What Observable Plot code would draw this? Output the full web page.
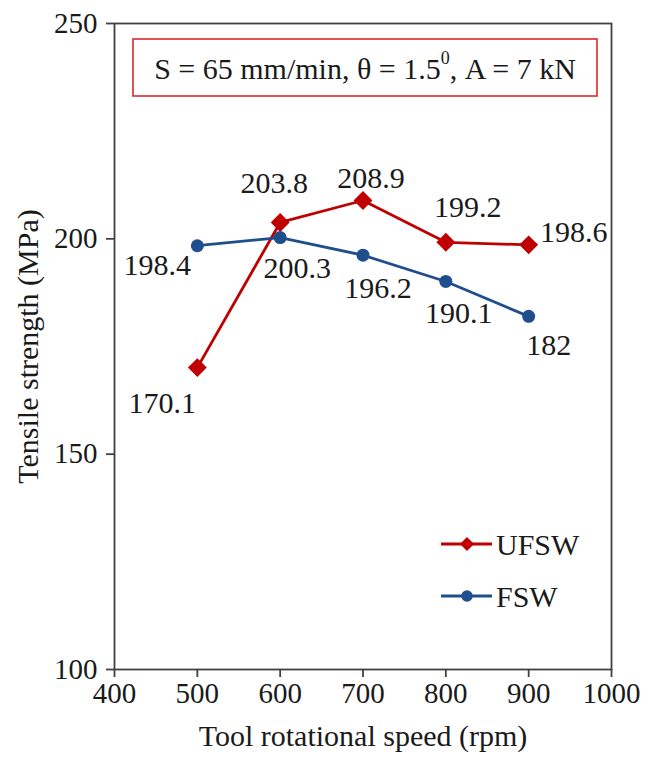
<!DOCTYPE html>
<html>
<head>
<meta charset="utf-8">
<script src="https://cdn.jsdelivr.net/npm/d3@7"></script>
<script src="https://cdn.jsdelivr.net/npm/@observablehq/plot@0.6"></script>
<style>
  html, body { margin: 0; padding: 0; background: #fff; }
  #chart { width: 656px; height: 758px; }
</style>
</head>
<body>
<div id="chart"></div>
<script>
// ---- data ----
const speeds = [500, 600, 700, 800, 900];
const ufsw = [170.1, 203.8, 208.9, 199.2, 198.6];
const fsw = [198.4, 200.3, 196.2, 190.1, 182];
const seriesNames = ["UFSW", "FSW"];
const xTicks = [400, 500, 600, 700, 800, 900, 1000];
const yTicks = [100, 150, 200, 250];

// ---- styling / layout config ----
const colors = {UFSW: "#C00000", FSW: "#1F4E8C"};
const symbols = {UFSW: "diamond2", FSW: "circle"};
const labelOffsets = {
  UFSW: [[-35, 36], [-6, -39], [8, -22], [22, -35], [45, -12]],
  FSW:  [[-40, 20], [17, 31], [15, 33], [13, 32], [20, 29]]
};
const FONT = "'Liberation Serif', 'Times New Roman', serif";
const FS = 30;
const TICK_FS = 29;

const rows = [];
speeds.forEach((s, i) => rows.push({series: "UFSW", speed: s, value: ufsw[i], i}));
speeds.forEach((s, i) => rows.push({series: "FSW", speed: s, value: fsw[i], i}));

const labelMarks = rows.map(r => {
  const [dx, dy] = labelOffsets[r.series][r.i];
  return Plot.text([r], {
    x: "speed", y: "value", text: d => String(d.value),
    dx, dy, fill: "#1a1a1a", fontSize: FS, textAnchor: "middle", lineAnchor: "middle"
  });
});

const plot = Plot.plot({
  width: 656,
  height: 758,
  marginLeft: 114,
  marginRight: 45,
  marginTop: 23,
  marginBottom: 89,
  style: {fontFamily: FONT, fontSize: TICK_FS + "px", color: "#1a1a1a", background: "#fff"},
  x: {domain: [400, 1000]},
  y: {domain: [100, 250]},
  marks: [
    Plot.axisX({ticks: xTicks, tickSize: 8, tickPadding: 5, tickFormat: d => String(d),
      label: null, stroke: "#404040", strokeWidth: 1.8, fontSize: TICK_FS}),
    Plot.axisX({ticks: [], label: "Tool rotational speed (rpm)", labelAnchor: "center",
      labelArrow: "none", labelOffset: 76, fontSize: FS}),
    Plot.axisY({ticks: yTicks, tickSize: 8, tickPadding: 9, tickFormat: d => String(d),
      label: null, stroke: "#404040", strokeWidth: 1.8, fontSize: TICK_FS}),
    Plot.axisY({ticks: [], label: "Tensile strength (MPa)", labelAnchor: "center",
      labelArrow: "none", labelOffset: 98, fontSize: FS}),
    Plot.frame({stroke: "#404040", strokeWidth: 1.8}),
    ...seriesNames.map(name => Plot.line(rows.filter(r => r.series === name), {
      x: "speed", y: "value", stroke: colors[name], strokeWidth: 2.8
    })),
    ...seriesNames.map(name => Plot.dot(rows.filter(r => r.series === name), {
      x: "speed", y: "value", fill: colors[name], stroke: "none",
      symbol: symbols[name], r: name === "UFSW" ? 8.5 : 6.5
    })),
    ...labelMarks
  ]
});

document.getElementById("chart").appendChild(plot);

// ---- annotation box and legend, placed relative to the plot frame ----
const svg = d3.select(plot);
const xr = plot.scale("x").range;  // [left, right]
const yr = plot.scale("y").range;  // [bottom, top]
const fLeft = xr[0], fRight = xr[1], fBottom = yr[0], fTop = yr[1];

// annotation box
const ann = svg.append("g");
const boxW = (fRight - fLeft) - 33;
ann.append("rect")
  .attr("x", fLeft + 19).attr("y", fTop + 16)
  .attr("width", boxW).attr("height", 57)
  .attr("fill", "#fff").attr("stroke", "#D9282F").attr("stroke-width", 1.6);
const t = ann.append("text")
  .attr("x", fLeft + 19 + boxW / 2).attr("y", fTop + 16 + 29)
  .attr("text-anchor", "middle").attr("dominant-baseline", "central")
  .attr("font-family", FONT).attr("font-size", FS).attr("fill", "#1a1a1a");
t.append("tspan").text("S = 65 mm/min, \u03B8 = 1.5");
t.append("tspan").attr("font-size", 18).attr("dy", -10).text("0");
t.append("tspan").attr("dy", 10).text(", A = 7 kN");

// legend
const lg = svg.append("g");
seriesNames.forEach((name, i) => {
  const cy = fBottom - 125 + i * 52;
  const x0 = fRight - 170;
  lg.append("line").attr("x1", x0).attr("x2", x0 + 51).attr("y1", cy).attr("y2", cy)
    .attr("stroke", colors[name]).attr("stroke-width", 2.8);
  lg.append("path")
    .attr("d", d3.symbol(name === "UFSW" ? d3.symbolDiamond2 : d3.symbolCircle, name === "UFSW" ? 125 : 105)())
    .attr("transform", `translate(${x0 + 26},${cy})`)
    .attr("fill", colors[name]);
  lg.append("text").attr("x", x0 + 55).attr("y", cy)
    .attr("text-anchor", "start")
    .attr("dominant-baseline", "central")
    .attr("font-family", FONT).attr("font-size", FS).attr("fill", "#1a1a1a")
    .text(name);
});
</script>
</body>
</html>
